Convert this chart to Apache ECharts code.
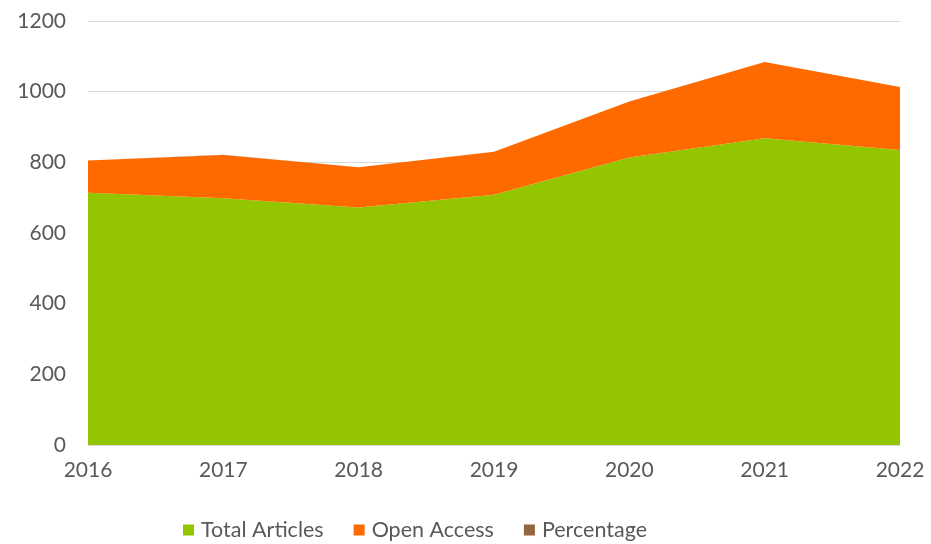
<!DOCTYPE html>
<html><head><meta charset="utf-8">
<script src="https://cdn.jsdelivr.net/npm/echarts@6/dist/echarts.min.js"></script>
<style>html,body{margin:0;padding:0;background:#fff}#c{width:931px;height:544px}</style>
</head><body><div id="c"></div>
<script>
var years = ['2016','2017','2018','2019','2020','2021','2022'];
var totalArticles = [714, 698, 672, 708, 814, 868, 835];
var openAccess = [91, 123, 114, 122, 158, 216, 178];
var percentage = [0.13, 0.18, 0.17, 0.17, 0.19, 0.25, 0.21];
var yTicks = [0, 200, 400, 600, 800, 1000, 1200];

var font = 'Lato';
var txt = '#595959';
var chart = echarts.init(document.getElementById('c'));
function ser(name, data, color) {
  return {
    name: name, type: 'line', stack: 'a', data: data, symbol: 'none',
    lineStyle: {width: 0}, itemStyle: {color: color},
    areaStyle: {color: color, opacity: 1}
  };
}
chart.setOption({
  animation: false,
  grid: {left: 88, right: 31, top: 21, bottom: 99},
  legend: {
    top: 514, left: 178, itemWidth: 11, itemHeight: 11, itemGap: 30,
    icon: 'rect',
    textStyle: {fontFamily: font, fontSize: 21.5, color: txt, padding: [0,0,0,2]},
    data: ['Total Articles', 'Open Access', 'Percentage']
  },
  xAxis: {
    type: 'category', data: years, boundaryGap: false,
    axisLine: {show: true, lineStyle: {color: '#d9d9d9'}},
    axisTick: {show: false},
    axisLabel: {fontFamily: font, fontSize: 21, color: txt, margin: 15}
  },
  yAxis: {
    type: 'value', min: yTicks[0], max: yTicks[yTicks.length-1], interval: 200,
    axisLine: {show: false}, axisTick: {show: false},
    splitLine: {lineStyle: {color: '#d9d9d9', width: 1}},
    axisLabel: {fontFamily: font, fontSize: 21, color: txt, margin: 22,
      formatter: function (v) { return String(v); }}
  },
  series: [
    ser('Total Articles', totalArticles, '#93c500'),
    ser('Open Access', openAccess, '#ff6a00'),
    ser('Percentage', percentage, '#936640')
  ]
});
</script></body></html>
